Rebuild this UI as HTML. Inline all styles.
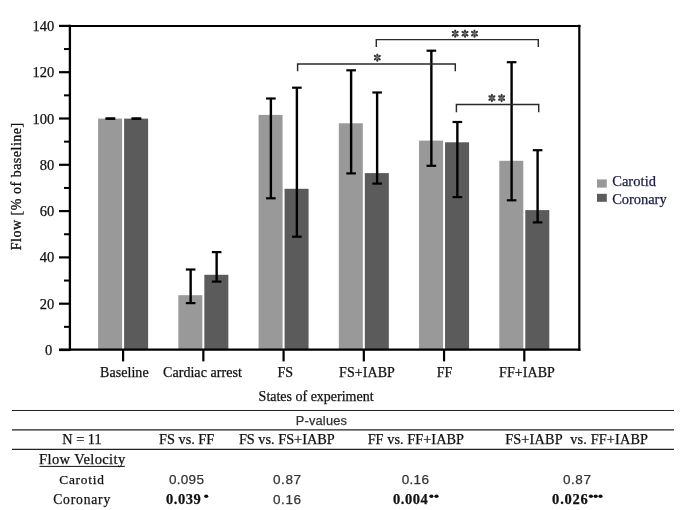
<!DOCTYPE html>
<html><head><meta charset="utf-8"><style>
html,body{margin:0;padding:0;background:#fff;}
body{width:685px;height:510px;overflow:hidden;font-family:"Liberation Serif",serif;}
svg{display:block;will-change:transform;}
</style></head><body>
<svg width="685" height="510" viewBox="0 0 685 510">
<rect width="685" height="510" fill="#fff"/>
<rect x="98.10" y="118.60" width="24" height="231.40" fill="#999999"/>
<rect x="124.10" y="118.60" width="24" height="231.40" fill="#5b5b5b"/>
<rect x="178.34" y="295.20" width="24" height="54.80" fill="#999999"/>
<rect x="204.34" y="274.80" width="24" height="75.20" fill="#5b5b5b"/>
<rect x="258.58" y="114.90" width="24" height="235.10" fill="#999999"/>
<rect x="284.58" y="188.80" width="24" height="161.20" fill="#5b5b5b"/>
<rect x="338.82" y="123.30" width="24" height="226.70" fill="#999999"/>
<rect x="364.82" y="173.10" width="24" height="176.90" fill="#5b5b5b"/>
<rect x="419.06" y="140.60" width="24" height="209.40" fill="#999999"/>
<rect x="445.06" y="142.30" width="24" height="207.70" fill="#5b5b5b"/>
<rect x="499.30" y="160.80" width="24" height="189.20" fill="#999999"/>
<rect x="525.30" y="210.10" width="24" height="139.90" fill="#5b5b5b"/>
<line x1="105.60" y1="118.60" x2="115.20" y2="118.60" stroke="#000" stroke-width="2.2"/>
<line x1="105.60" y1="118.60" x2="115.20" y2="118.60" stroke="#000" stroke-width="2.2"/>
<line x1="131.60" y1="118.60" x2="141.20" y2="118.60" stroke="#000" stroke-width="2.2"/>
<line x1="131.60" y1="118.60" x2="141.20" y2="118.60" stroke="#000" stroke-width="2.2"/>
<line x1="190.64" y1="269.50" x2="190.64" y2="303.10" stroke="#000" stroke-width="2.4"/>
<line x1="185.84" y1="269.50" x2="195.44" y2="269.50" stroke="#000" stroke-width="2.2"/>
<line x1="185.84" y1="303.10" x2="195.44" y2="303.10" stroke="#000" stroke-width="2.2"/>
<line x1="216.64" y1="252.10" x2="216.64" y2="281.60" stroke="#000" stroke-width="2.4"/>
<line x1="211.84" y1="252.10" x2="221.44" y2="252.10" stroke="#000" stroke-width="2.2"/>
<line x1="211.84" y1="281.60" x2="221.44" y2="281.60" stroke="#000" stroke-width="2.2"/>
<line x1="270.88" y1="98.50" x2="270.88" y2="198.30" stroke="#000" stroke-width="2.4"/>
<line x1="266.08" y1="98.50" x2="275.68" y2="98.50" stroke="#000" stroke-width="2.2"/>
<line x1="266.08" y1="198.30" x2="275.68" y2="198.30" stroke="#000" stroke-width="2.2"/>
<line x1="296.88" y1="87.70" x2="296.88" y2="236.70" stroke="#000" stroke-width="2.4"/>
<line x1="292.08" y1="87.70" x2="301.68" y2="87.70" stroke="#000" stroke-width="2.2"/>
<line x1="292.08" y1="236.70" x2="301.68" y2="236.70" stroke="#000" stroke-width="2.2"/>
<line x1="351.12" y1="70.30" x2="351.12" y2="173.40" stroke="#000" stroke-width="2.4"/>
<line x1="346.32" y1="70.30" x2="355.92" y2="70.30" stroke="#000" stroke-width="2.2"/>
<line x1="346.32" y1="173.40" x2="355.92" y2="173.40" stroke="#000" stroke-width="2.2"/>
<line x1="377.12" y1="92.50" x2="377.12" y2="183.60" stroke="#000" stroke-width="2.4"/>
<line x1="372.32" y1="92.50" x2="381.92" y2="92.50" stroke="#000" stroke-width="2.2"/>
<line x1="372.32" y1="183.60" x2="381.92" y2="183.60" stroke="#000" stroke-width="2.2"/>
<line x1="431.36" y1="50.70" x2="431.36" y2="165.80" stroke="#000" stroke-width="2.4"/>
<line x1="426.56" y1="50.70" x2="436.16" y2="50.70" stroke="#000" stroke-width="2.2"/>
<line x1="426.56" y1="165.80" x2="436.16" y2="165.80" stroke="#000" stroke-width="2.2"/>
<line x1="457.36" y1="122.00" x2="457.36" y2="197.10" stroke="#000" stroke-width="2.4"/>
<line x1="452.56" y1="122.00" x2="462.16" y2="122.00" stroke="#000" stroke-width="2.2"/>
<line x1="452.56" y1="197.10" x2="462.16" y2="197.10" stroke="#000" stroke-width="2.2"/>
<line x1="511.60" y1="62.20" x2="511.60" y2="200.30" stroke="#000" stroke-width="2.4"/>
<line x1="506.80" y1="62.20" x2="516.40" y2="62.20" stroke="#000" stroke-width="2.2"/>
<line x1="506.80" y1="200.30" x2="516.40" y2="200.30" stroke="#000" stroke-width="2.2"/>
<line x1="537.60" y1="150.20" x2="537.60" y2="222.40" stroke="#000" stroke-width="2.4"/>
<line x1="532.80" y1="150.20" x2="542.40" y2="150.20" stroke="#000" stroke-width="2.2"/>
<line x1="532.80" y1="222.40" x2="542.40" y2="222.40" stroke="#000" stroke-width="2.2"/>
<g stroke="#000" fill="none">
<line x1="59" y1="25.90" x2="580.4" y2="25.90" stroke-width="2.0"/>
<line x1="59" y1="349.70" x2="580.4" y2="349.70" stroke-width="2.2"/>
<line x1="69.9" y1="24.80" x2="69.9" y2="350.80" stroke-width="2.3"/>
<line x1="579.3" y1="24.80" x2="579.3" y2="351.10" stroke-width="2.2"/>
<line x1="59" y1="350.00" x2="70" y2="350.00" stroke-width="2.2"/>
<line x1="59" y1="303.70" x2="70" y2="303.70" stroke-width="2.2"/>
<line x1="59" y1="257.40" x2="70" y2="257.40" stroke-width="2.2"/>
<line x1="59" y1="211.10" x2="70" y2="211.10" stroke-width="2.2"/>
<line x1="59" y1="164.80" x2="70" y2="164.80" stroke-width="2.2"/>
<line x1="59" y1="118.50" x2="70" y2="118.50" stroke-width="2.2"/>
<line x1="59" y1="72.20" x2="70" y2="72.20" stroke-width="2.2"/>
<line x1="59" y1="25.90" x2="70" y2="25.90" stroke-width="2.2"/>
<line x1="64" y1="326.85" x2="70" y2="326.85" stroke-width="2"/>
<line x1="64" y1="280.55" x2="70" y2="280.55" stroke-width="2"/>
<line x1="64" y1="234.25" x2="70" y2="234.25" stroke-width="2"/>
<line x1="64" y1="187.95" x2="70" y2="187.95" stroke-width="2"/>
<line x1="64" y1="141.65" x2="70" y2="141.65" stroke-width="2"/>
<line x1="64" y1="95.35" x2="70" y2="95.35" stroke-width="2"/>
<line x1="64" y1="49.05" x2="70" y2="49.05" stroke-width="2"/>
<line x1="123.10" y1="350.00" x2="123.10" y2="361.4" stroke-width="2.2"/>
<line x1="203.34" y1="350.00" x2="203.34" y2="361.4" stroke-width="2.2"/>
<line x1="283.58" y1="350.00" x2="283.58" y2="361.4" stroke-width="2.2"/>
<line x1="363.82" y1="350.00" x2="363.82" y2="361.4" stroke-width="2.2"/>
<line x1="444.06" y1="350.00" x2="444.06" y2="361.4" stroke-width="2.2"/>
<line x1="524.30" y1="350.00" x2="524.30" y2="361.4" stroke-width="2.2"/>
</g>
<g stroke="#2a2a2a" fill="none" stroke-width="1.45">
<path d="M297.6 71.3 V64 H455.3 V71.3"/>
<path d="M376.3 47 V39.6 H538.3 V47"/>
<path d="M456.4 112.3 V104.4 H538.7 V112.3"/>
</g>
<circle cx="377.30" cy="57.60" r="1.4" fill="#6a6a6a"/><ellipse cx="377.30" cy="55.00" rx="1.55" ry="1.1" transform="rotate(-90 377.30 55.00)" fill="#383838"/><ellipse cx="377.30" cy="60.20" rx="1.55" ry="1.1" transform="rotate(-270 377.30 60.20)" fill="#383838"/><ellipse cx="379.43" cy="56.11" rx="1.55" ry="1.1" transform="rotate(-35 379.43 56.11)" fill="#383838"/><ellipse cx="375.17" cy="56.11" rx="1.55" ry="1.1" transform="rotate(-145 375.17 56.11)" fill="#383838"/><ellipse cx="375.17" cy="59.09" rx="1.55" ry="1.1" transform="rotate(-215 375.17 59.09)" fill="#383838"/><ellipse cx="379.43" cy="59.09" rx="1.55" ry="1.1" transform="rotate(-325 379.43 59.09)" fill="#383838"/>
<circle cx="455.20" cy="33.70" r="1.4" fill="#6a6a6a"/><ellipse cx="455.20" cy="31.10" rx="1.55" ry="1.1" transform="rotate(-90 455.20 31.10)" fill="#383838"/><ellipse cx="455.20" cy="36.30" rx="1.55" ry="1.1" transform="rotate(-270 455.20 36.30)" fill="#383838"/><ellipse cx="457.33" cy="32.21" rx="1.55" ry="1.1" transform="rotate(-35 457.33 32.21)" fill="#383838"/><ellipse cx="453.07" cy="32.21" rx="1.55" ry="1.1" transform="rotate(-145 453.07 32.21)" fill="#383838"/><ellipse cx="453.07" cy="35.19" rx="1.55" ry="1.1" transform="rotate(-215 453.07 35.19)" fill="#383838"/><ellipse cx="457.33" cy="35.19" rx="1.55" ry="1.1" transform="rotate(-325 457.33 35.19)" fill="#383838"/>
<circle cx="465.00" cy="33.70" r="1.4" fill="#6a6a6a"/><ellipse cx="465.00" cy="31.10" rx="1.55" ry="1.1" transform="rotate(-90 465.00 31.10)" fill="#383838"/><ellipse cx="465.00" cy="36.30" rx="1.55" ry="1.1" transform="rotate(-270 465.00 36.30)" fill="#383838"/><ellipse cx="467.13" cy="32.21" rx="1.55" ry="1.1" transform="rotate(-35 467.13 32.21)" fill="#383838"/><ellipse cx="462.87" cy="32.21" rx="1.55" ry="1.1" transform="rotate(-145 462.87 32.21)" fill="#383838"/><ellipse cx="462.87" cy="35.19" rx="1.55" ry="1.1" transform="rotate(-215 462.87 35.19)" fill="#383838"/><ellipse cx="467.13" cy="35.19" rx="1.55" ry="1.1" transform="rotate(-325 467.13 35.19)" fill="#383838"/>
<circle cx="474.50" cy="33.70" r="1.4" fill="#6a6a6a"/><ellipse cx="474.50" cy="31.10" rx="1.55" ry="1.1" transform="rotate(-90 474.50 31.10)" fill="#383838"/><ellipse cx="474.50" cy="36.30" rx="1.55" ry="1.1" transform="rotate(-270 474.50 36.30)" fill="#383838"/><ellipse cx="476.63" cy="32.21" rx="1.55" ry="1.1" transform="rotate(-35 476.63 32.21)" fill="#383838"/><ellipse cx="472.37" cy="32.21" rx="1.55" ry="1.1" transform="rotate(-145 472.37 32.21)" fill="#383838"/><ellipse cx="472.37" cy="35.19" rx="1.55" ry="1.1" transform="rotate(-215 472.37 35.19)" fill="#383838"/><ellipse cx="476.63" cy="35.19" rx="1.55" ry="1.1" transform="rotate(-325 476.63 35.19)" fill="#383838"/>
<circle cx="491.90" cy="98.00" r="1.4" fill="#6a6a6a"/><ellipse cx="491.90" cy="95.40" rx="1.55" ry="1.1" transform="rotate(-90 491.90 95.40)" fill="#383838"/><ellipse cx="491.90" cy="100.60" rx="1.55" ry="1.1" transform="rotate(-270 491.90 100.60)" fill="#383838"/><ellipse cx="494.03" cy="96.51" rx="1.55" ry="1.1" transform="rotate(-35 494.03 96.51)" fill="#383838"/><ellipse cx="489.77" cy="96.51" rx="1.55" ry="1.1" transform="rotate(-145 489.77 96.51)" fill="#383838"/><ellipse cx="489.77" cy="99.49" rx="1.55" ry="1.1" transform="rotate(-215 489.77 99.49)" fill="#383838"/><ellipse cx="494.03" cy="99.49" rx="1.55" ry="1.1" transform="rotate(-325 494.03 99.49)" fill="#383838"/>
<circle cx="501.60" cy="98.00" r="1.4" fill="#6a6a6a"/><ellipse cx="501.60" cy="95.40" rx="1.55" ry="1.1" transform="rotate(-90 501.60 95.40)" fill="#383838"/><ellipse cx="501.60" cy="100.60" rx="1.55" ry="1.1" transform="rotate(-270 501.60 100.60)" fill="#383838"/><ellipse cx="503.73" cy="96.51" rx="1.55" ry="1.1" transform="rotate(-35 503.73 96.51)" fill="#383838"/><ellipse cx="499.47" cy="96.51" rx="1.55" ry="1.1" transform="rotate(-145 499.47 96.51)" fill="#383838"/><ellipse cx="499.47" cy="99.49" rx="1.55" ry="1.1" transform="rotate(-215 499.47 99.49)" fill="#383838"/><ellipse cx="503.73" cy="99.49" rx="1.55" ry="1.1" transform="rotate(-325 503.73 99.49)" fill="#383838"/>
<rect x="597" y="179.4" width="9.8" height="8.2" fill="#999999"/>
<rect x="597" y="193.8" width="9.8" height="8" fill="#5b5b5b"/>
<g stroke="#222" stroke-width="1.2">
<line x1="12" y1="410.5" x2="674" y2="410.5"/>
<line x1="12" y1="429.8" x2="674" y2="429.8"/>
<line x1="12" y1="449.4" x2="674" y2="449.4"/>
</g>
<line x1="39.5" y1="466.4" x2="124.9" y2="466.4" stroke="#111" stroke-width="1"/>
<ellipse cx="206.20" cy="496.2" rx="2.1" ry="1.7" fill="#111"/>
<ellipse cx="431.40" cy="496.2" rx="2.1" ry="1.7" fill="#111"/><ellipse cx="436.50" cy="496.2" rx="2.1" ry="1.7" fill="#111"/>
<ellipse cx="590.90" cy="496.2" rx="2.1" ry="1.7" fill="#111"/><ellipse cx="595.70" cy="496.2" rx="2.1" ry="1.7" fill="#111"/><ellipse cx="600.50" cy="496.2" rx="2.1" ry="1.7" fill="#111"/>
<g font-family="Liberation Serif, serif" font-size="14.5" fill="#111" stroke="#111" stroke-width="0.25" text-anchor="end">
<text x="52.2" y="355.00">0</text>
<text x="54.2" y="308.70">20</text>
<text x="54.2" y="262.40">40</text>
<text x="54.2" y="216.10">60</text>
<text x="54.2" y="169.80">80</text>
<text x="54.2" y="123.50">100</text>
<text x="54.2" y="77.20">120</text>
<text x="54.2" y="30.90">140</text>
</g>
<text font-family="Liberation Serif, serif" fill="#111" transform="translate(21 186.5) rotate(-90)" text-anchor="middle" font-size="14" stroke="#111" stroke-width="0.3" textLength="127.5" lengthAdjust="spacing">Flow [% of baseline]</text>
<text x="100.12" y="376.9" font-family="Liberation Serif, serif" font-size="14" font-weight="normal" fill="#111" stroke="#111" stroke-width="0.25" textLength="48.48" lengthAdjust="spacing" xml:space="preserve">Baseline</text>
<text x="163.02" y="376.9" font-family="Liberation Serif, serif" font-size="14" font-weight="normal" fill="#111" stroke="#111" stroke-width="0.25" textLength="78.76" lengthAdjust="spacing" xml:space="preserve">Cardiac arrest</text>
<text x="277.39" y="376.9" font-family="Liberation Serif, serif" font-size="14" font-weight="normal" fill="#111" stroke="#111" stroke-width="0.25" xml:space="preserve">FS</text>
<text x="339.12" y="376.9" font-family="Liberation Serif, serif" font-size="14" font-weight="normal" fill="#111" stroke="#111" stroke-width="0.25" textLength="55.70" lengthAdjust="spacing" xml:space="preserve">FS+IABP</text>
<text x="436.81" y="376.9" font-family="Liberation Serif, serif" font-size="14" font-weight="normal" fill="#111" stroke="#111" stroke-width="0.25" xml:space="preserve">FF</text>
<text x="499.12" y="376.9" font-family="Liberation Serif, serif" font-size="14" font-weight="normal" fill="#111" stroke="#111" stroke-width="0.25" textLength="55.70" lengthAdjust="spacing" xml:space="preserve">FF+IABP</text>
<text x="258.62" y="400.9" font-family="Liberation Serif, serif" font-size="14" font-weight="normal" fill="#111" stroke="#111" stroke-width="0.25" textLength="114.94" lengthAdjust="spacing" xml:space="preserve">States of experiment</text>
<text x="612.17" y="186.1" font-family="Liberation Serif, serif" font-size="14.5" font-weight="normal" fill="#1c1c48" stroke="#1c1c48" stroke-width="0.25" textLength="43.79" lengthAdjust="spacing" xml:space="preserve">Carotid</text>
<text x="612.17" y="203.6" font-family="Liberation Serif, serif" font-size="14.5" font-weight="normal" fill="#1c1c48" stroke="#1c1c48" stroke-width="0.25" textLength="54.46" lengthAdjust="spacing" xml:space="preserve">Coronary</text>
<text x="295.64" y="424.7" font-family="Liberation Sans, sans-serif" font-size="12.8" font-weight="normal" fill="#333" stroke="#333" stroke-width="0.25" textLength="51.36" lengthAdjust="spacing" xml:space="preserve">P-values</text>
<text x="62.21" y="443.8" font-family="Liberation Serif, serif" font-size="14.3" font-weight="normal" fill="#111" stroke="#111" stroke-width="0.25" textLength="39.43" lengthAdjust="spacing" xml:space="preserve">N = 11</text>
<text x="159.08" y="443.8" font-family="Liberation Serif, serif" font-size="14.3" font-weight="normal" fill="#111" stroke="#111" stroke-width="0.25" textLength="55.13" lengthAdjust="spacing" xml:space="preserve">FS vs. FF</text>
<text x="238.91" y="443.8" font-family="Liberation Serif, serif" font-size="14.3" font-weight="normal" fill="#111" stroke="#111" stroke-width="0.25" textLength="95.80" lengthAdjust="spacing" xml:space="preserve">FS vs. FS+IABP</text>
<text x="367.63" y="443.8" font-family="Liberation Serif, serif" font-size="14.3" font-weight="normal" fill="#111" stroke="#111" stroke-width="0.25" textLength="96.42" lengthAdjust="spacing" xml:space="preserve">FF vs. FF+IABP</text>
<text x="505.15" y="443.8" font-family="Liberation Serif, serif" font-size="14.3" font-weight="normal" fill="#111" stroke="#111" stroke-width="0.25" textLength="142.92" lengthAdjust="spacing" xml:space="preserve">FS+IABP  vs. FF+IABP</text>
<text x="39.10" y="463.6" font-family="Liberation Serif, serif" font-size="14.5" font-weight="normal" fill="#111" stroke="#111" stroke-width="0.25" textLength="86.03" lengthAdjust="spacing" xml:space="preserve">Flow Velocity</text>
<text x="59.24" y="484.1" font-family="Liberation Serif, serif" font-size="13.4" font-weight="normal" fill="#111" stroke="#111" stroke-width="0.25" textLength="44.63" lengthAdjust="spacing" xml:space="preserve">Carotid</text>
<text x="53.15" y="503.7" font-family="Liberation Serif, serif" font-size="13.6" font-weight="normal" fill="#111" stroke="#111" stroke-width="0.25" textLength="57.11" lengthAdjust="spacing" xml:space="preserve">Coronary</text>
<text x="168.93" y="484.3" font-family="Liberation Sans, sans-serif" font-size="13.5" font-weight="normal" fill="#333" stroke="#333" stroke-width="0.25" textLength="34.98" lengthAdjust="spacing" xml:space="preserve">0.095</text>
<text x="272.96" y="484.3" font-family="Liberation Sans, sans-serif" font-size="13.5" font-weight="normal" fill="#333" stroke="#333" stroke-width="0.25" textLength="28.10" lengthAdjust="spacing" xml:space="preserve">0.87</text>
<text x="401.65" y="484.3" font-family="Liberation Sans, sans-serif" font-size="13.5" font-weight="normal" fill="#333" stroke="#333" stroke-width="0.25" textLength="27.34" lengthAdjust="spacing" xml:space="preserve">0.16</text>
<text x="562.96" y="484.3" font-family="Liberation Sans, sans-serif" font-size="13.5" font-weight="normal" fill="#333" stroke="#333" stroke-width="0.25" textLength="28.01" lengthAdjust="spacing" xml:space="preserve">0.87</text>
<text x="272.96" y="503.6" font-family="Liberation Sans, sans-serif" font-size="13.5" font-weight="normal" fill="#333" stroke="#333" stroke-width="0.25" textLength="28.05" lengthAdjust="spacing" xml:space="preserve">0.16</text>
<text x="166.09" y="503.5" font-family="Liberation Serif, serif" font-size="14.5" font-weight="bold" fill="#111" stroke="#111" stroke-width="0.25" textLength="34.61" lengthAdjust="spacing" xml:space="preserve">0.039</text>
<text x="393.09" y="503.5" font-family="Liberation Serif, serif" font-size="14.5" font-weight="bold" fill="#111" stroke="#111" stroke-width="0.25" textLength="34.70" lengthAdjust="spacing" xml:space="preserve">0.004</text>
<text x="552.09" y="503.5" font-family="Liberation Serif, serif" font-size="14.5" font-weight="bold" fill="#111" stroke="#111" stroke-width="0.25" textLength="35.77" lengthAdjust="spacing" xml:space="preserve">0.026</text>
</svg>
</body></html>
